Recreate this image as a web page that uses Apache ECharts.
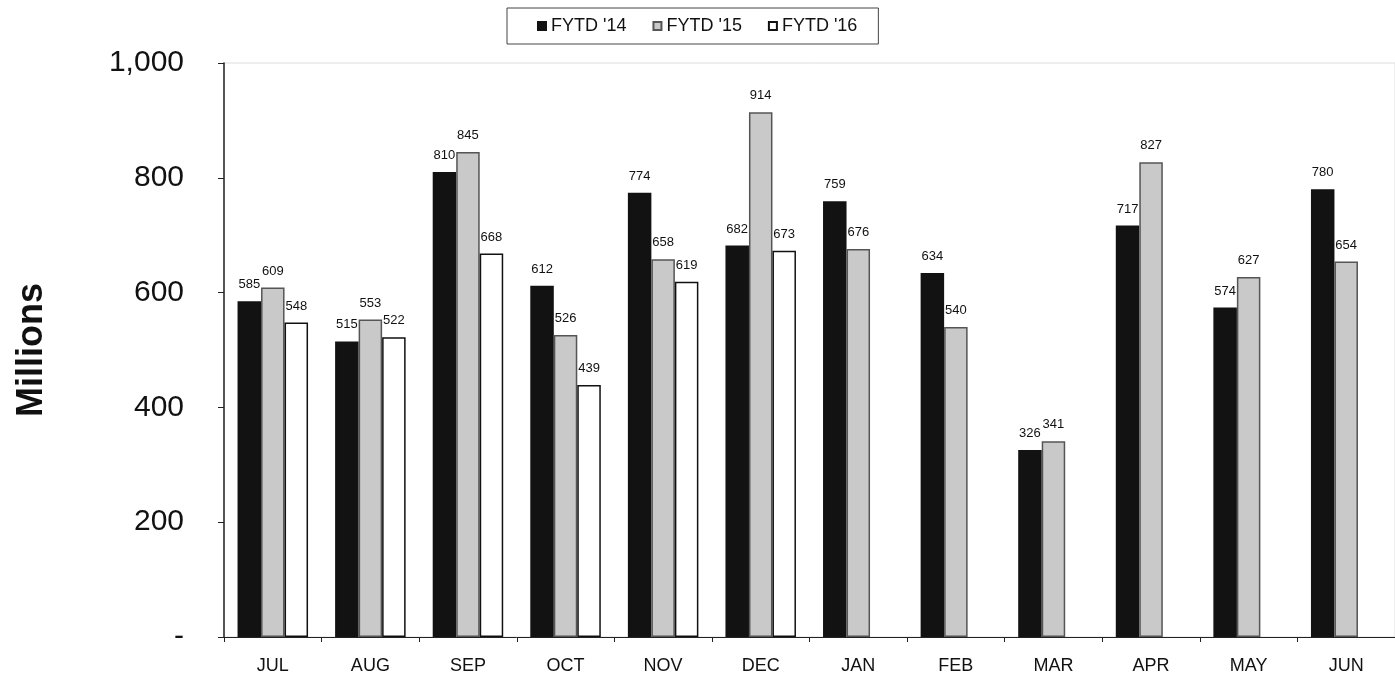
<!DOCTYPE html>
<html><head><meta charset="utf-8">
<script src="https://cdn.jsdelivr.net/npm/echarts@6/dist/echarts.min.js"></script>
<style>html,body{margin:0;padding:0;background:#fff}#c{width:1395px;height:682px}</style>
</head><body><div id="c"></div>
<script>
const categories = ['JUL','AUG','SEP','OCT','NOV','DEC','JAN','FEB','MAR','APR','MAY','JUN'];
const fytd14 = [585, 515, 810, 612, 774, 682, 759, 634, 326, 717, 574, 780];
const fytd15 = [609, 553, 845, 526, 658, 914, 676, 540, 341, 827, 627, 654];
const fytd16 = [548, 522, 668, 439, 619, 673, null, null, null, null, null, null];
const seriesNames = ["FYTD '14", "FYTD '15", "FYTD '16"];
const yTicks = [0, 200, 400, 600, 800, 1000];

const chart = echarts.init(document.getElementById('c'));
const lbl = {show: true, position: 'top', distance: 10, color: '#111', fontFamily: 'Liberation Sans, Arial', fontSize: 13};
function mk(name, data, color, border) {
  return {
    name, type: 'bar', data, barWidth: 23.5, barGap: '0%',
    itemStyle: {color, borderColor: border, borderWidth: 1.5},
    label: lbl
  };
}
chart.setOption({
  animation: false,
  textStyle: {fontFamily: 'Liberation Sans, Arial'},
  legend: {
    left: 507, top: 8,
    padding: [9, 21, 9, 30],
    borderColor: '#444', borderWidth: 1,
    itemWidth: 8, itemHeight: 8, itemGap: 26,
    textStyle: {fontSize: 18, color: '#111'},
    data: seriesNames.map((n) => ({name: n, icon: 'rect'}))
  },
  grid: {left: 224, top: 63, width: 1180, height: 574, show: true, borderColor: '#ddd', borderWidth: 1},
  xAxis: {
    type: 'category', data: categories,
    axisLine: {lineStyle: {color: '#222', width: 1}},
    axisTick: {show: true, alignWithLabel: false, length: 5, lineStyle: {color: '#222'}},
    axisLabel: {fontSize: 18, color: '#111', margin: 20}
  },
  yAxis: {
    type: 'value', min: 0, max: 1000, interval: 200,
    axisLine: {show: true, lineStyle: {color: '#222', width: 1.5}},
    axisTick: {show: true, length: 6, lineStyle: {color: '#222'}},
    splitLine: {show: false},
    axisLabel: {
      fontSize: 30, color: '#111', margin: 40,
      formatter: (v) => yTicks.includes(v) ? (v === 0 ? '-' : v.toLocaleString('en-US')) : ''
    },
    name: 'Millions', nameLocation: 'middle', nameGap: 174, nameRotate: 90,
    nameTextStyle: {fontSize: 36, fontWeight: 'bold', color: '#111'}
  },
  series: [
    mk(seriesNames[0], fytd14, '#121212', '#121212'),
    mk(seriesNames[1], fytd15, '#c9c9c9', '#555'),
    mk(seriesNames[2], fytd16, '#ffffff', '#111')
  ]
});
</script></body></html>
